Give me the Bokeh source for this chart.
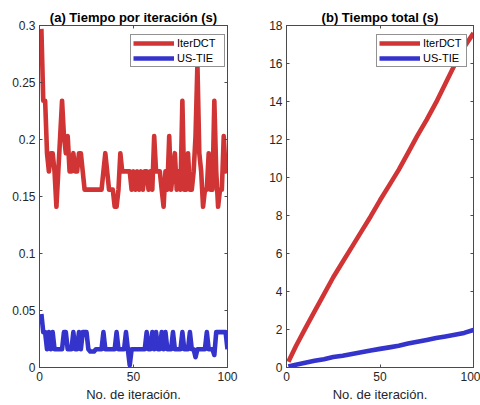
from bokeh.plotting import figure
from bokeh.layouts import row
from bokeh.models import (FixedTicker, LinearAxis, Range1d, Legend, LegendItem,
                          CustomJSTickFormatter)
from bokeh.embed import file_html
from bokeh.resources import INLINE

# ---------------- data ----------------
iteraciones = list(range(1, 101))

iterdct_por_iter = [
    0.297, 0.234, 0.234, 0.188, 0.172, 0.188, 0.188, 0.172, 0.141, 0.172,
    0.203, 0.234, 0.203, 0.188, 0.203, 0.172, 0.172, 0.188, 0.172, 0.172,
    0.188, 0.188, 0.172, 0.156, 0.156, 0.156, 0.156, 0.156, 0.156, 0.156,
    0.156, 0.156, 0.156, 0.172, 0.188, 0.172, 0.156, 0.156, 0.156, 0.141,
    0.141, 0.156, 0.188, 0.172, 0.172, 0.172, 0.172, 0.172, 0.156, 0.172,
    0.156, 0.172, 0.156, 0.172, 0.156, 0.172, 0.172, 0.156, 0.172, 0.156,
    0.203, 0.172, 0.172, 0.172, 0.156, 0.141, 0.172, 0.156, 0.203, 0.156,
    0.172, 0.188, 0.156, 0.172, 0.156, 0.234, 0.156, 0.156, 0.188, 0.156,
    0.156, 0.172, 0.203, 0.266, 0.188, 0.172, 0.141, 0.156, 0.156, 0.188,
    0.156, 0.156, 0.234, 0.172, 0.141, 0.156, 0.156, 0.203, 0.172, 0.188,
]

ustie_por_iter = [
    0.047, 0.031, 0.031, 0.016, 0.031, 0.016, 0.031, 0.016, 0.016, 0.016,
    0.016, 0.016, 0.031, 0.031, 0.016, 0.016, 0.016, 0.031, 0.016, 0.016,
    0.031, 0.016, 0.031, 0.031, 0.031, 0.016, 0.014, 0.014, 0.014, 0.016,
    0.016, 0.016, 0.016, 0.031, 0.016, 0.016, 0.016, 0.016, 0.016, 0.016,
    0.031, 0.016, 0.016, 0.016, 0.016, 0.031, 0.016, 0.002, 0.016, 0.016,
    0.016, 0.016, 0.016, 0.016, 0.016, 0.016, 0.031, 0.016, 0.016, 0.031,
    0.016, 0.031, 0.016, 0.016, 0.031, 0.016, 0.031, 0.016, 0.016, 0.016,
    0.031, 0.016, 0.016, 0.016, 0.016, 0.031, 0.016, 0.016, 0.016, 0.031,
    0.016, 0.016, 0.009, 0.016, 0.016, 0.016, 0.016, 0.016, 0.031, 0.016,
    0.016, 0.016, 0.011, 0.031, 0.031, 0.031, 0.031, 0.031, 0.031, 0.016,
]

iter_total = [1, 5, 10, 15, 20, 25, 30, 35, 40, 45, 50,
              55, 60, 65, 70, 75, 80, 85, 90, 95, 100]
iterdct_total = [0.30, 1.12, 2.05, 2.95, 3.85, 4.75, 5.55, 6.35, 7.15, 7.95, 8.80,
                 9.60, 10.40, 11.30, 12.20, 13.05, 13.95, 14.95, 15.95, 16.85, 17.60]
ustie_total = [0.05, 0.15, 0.25, 0.35, 0.44, 0.55, 0.62, 0.71, 0.80, 0.89, 0.98,
               1.06, 1.15, 1.26, 1.35, 1.45, 1.55, 1.63, 1.72, 1.82, 1.98]

x_ticks = [0, 50, 100]
y_ticks_a = [0, 0.05, 0.1, 0.15, 0.2, 0.25, 0.3]
y_ticks_b = [0, 2, 4, 6, 8, 10, 12, 14, 16, 18]

series_names = ["IterDCT", "US-TIE"]
titles = ["(a) Tiempo por iteración (s)", "(b) Tiempo total (s)"]
x_label = "No. de iteración."

# ---------------- style ----------------
RED = "#D03434"
BLUE = "#3434CC"
AX = "#4a4a4a"
TXT = "#262626"
FONT = "Liberation Sans"
LW = 4.6

fmt = CustomJSTickFormatter(code="return String(Math.round(tick*1000)/1000);")


def make_fig(title, y_end, y_ticks, xs, y_red, y_blue, bl, br, legend_x, label_w):
    p = figure(width=240, height=405, x_range=Range1d(0, 100), y_range=Range1d(0, y_end),
               output_backend="svg", toolbar_location=None,
               min_border_left=bl, min_border_right=br,
               min_border_top=25, min_border_bottom=38)
    p.title.text = title
    p.title.text_font = FONT
    p.title.text_font_size = "13px"
    p.title.text_font_style = "bold"
    p.title.text_color = "#000000"
    p.title.align = "center"
    p.title.standoff = 1
    p.grid.visible = False
    p.outline_line_color = AX
    p.outline_line_width = 1
    p.background_fill_color = "white"
    p.border_fill_color = "white"

    for ax, tks in ((p.xaxis[0], x_ticks), (p.yaxis[0], y_ticks)):
        ax.ticker = FixedTicker(ticks=tks)
        ax.formatter = fmt
        ax.major_tick_in = 3
        ax.major_tick_out = 0
        ax.minor_tick_line_color = None
        ax.axis_line_color = AX
        ax.major_tick_line_color = AX
        ax.major_label_text_font = FONT
        ax.major_label_text_font_size = "12px"
        ax.major_label_text_color = TXT
        ax.major_label_standoff = 4
    p.xaxis.axis_label = x_label
    p.xaxis.axis_label_text_font = FONT
    p.xaxis.axis_label_text_font_size = "13px"
    p.xaxis.axis_label_text_font_style = "normal"
    p.xaxis.axis_label_text_color = TXT
    p.xaxis.axis_label_standoff = 3

    # mirrored inward ticks on the top and right sides (no labels)
    for loc, tks in (("right", y_ticks), ("above", x_ticks)):
        ax = LinearAxis(ticker=FixedTicker(ticks=tks), major_tick_in=3, major_tick_out=0,
                        minor_tick_line_color=None, axis_line_color=AX,
                        major_tick_line_color=AX, major_label_standoff=0,
                        major_label_text_color=None, major_label_text_alpha=0,
                        major_label_text_font_size="1px")
        p.add_layout(ax, loc)

    r1 = p.line(xs, y_red, color=RED, line_width=LW, line_join="round")
    r2 = p.line(xs, y_blue, color=BLUE, line_width=LW, line_join="round")

    leg = Legend(items=[LegendItem(label=series_names[0], renderers=[r1]),
                        LegendItem(label=series_names[1], renderers=[r2])],
                 location=(legend_x, 300), margin=0, padding=2, spacing=3,
                 glyph_width=41, glyph_height=12, label_height=12,
                 label_width=label_w, label_standoff=3,
                 label_text_font=FONT, label_text_font_size="11px",
                 label_text_color="#000000",
                 border_line_color=TXT, border_line_width=1,
                 background_fill_color="white", background_fill_alpha=1.0)
    p.add_layout(leg)
    return p


p1 = make_fig(titles[0], 0.3, y_ticks_a, iteraciones, iterdct_por_iter, ustie_por_iter,
              39, 13, 91, 45)
p2 = make_fig(titles[1], 18, y_ticks_b, iter_total, iterdct_total, ustie_total,
              46, 7, 90, 41)

layout = row(p1, p2)
open("out.html", "w").write(file_html(layout, INLINE))
